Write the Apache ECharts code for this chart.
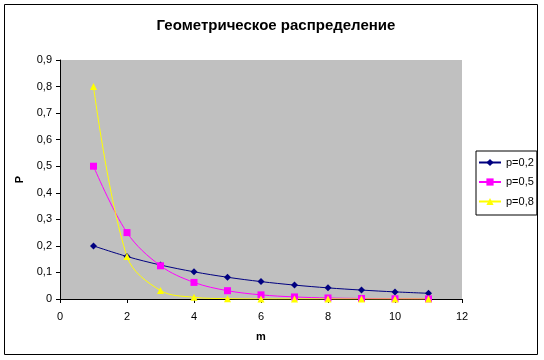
<!DOCTYPE html>
<html><head><meta charset="utf-8">
<script src="https://cdn.jsdelivr.net/npm/echarts@6/dist/echarts.min.js"></script>
<style>html,body{margin:0;padding:0;background:#fff}#c{width:544px;height:360px}</style>
</head><body><div id="c"></div>
<script>
const m = [1,2,3,4,5,6,7,8,9,10,11];
const p02 = [0.2,0.16,0.128,0.1024,0.0819,0.0655,0.0524,0.0419,0.0336,0.0268,0.0215];
const p05 = [0.5,0.25,0.125,0.0625,0.0313,0.0156,0.0078,0.0039,0.002,0.001,0.0005];
const p08 = [0.8,0.16,0.032,0.0064,0.0013,0.0003,0.0001,0.00001,0,0,0];
const names = ['p=0,2','p=0,5','p=0,8'];
const xTicks = {min:0,max:12,interval:2};
const yTicks = {min:0,max:0.9,interval:0.1};
const chart = echarts.init(document.getElementById('c'));
const font = 'Liberation Sans, Arial, sans-serif';
const pair = arr => m.map((x,i)=>[x,arr[i]]);
const colors = ['#000080','#FF00FF','#FFFF00'];
const symbols = ['diamond','rect','triangle'];
const sizes = [7,7,7];
chart.setOption({
  animation:false,
  textStyle:{fontFamily:font},
  title:{text:'Геометрическое распределение',left:271,top:13,textAlign:'center',
    textStyle:{fontFamily:font,fontSize:15,fontWeight:'bold',color:'#000'}},
  graphic:[{type:'rect',shape:{x:4.5,y:4.5,width:533,height:350},style:{fill:'none',stroke:'#000',lineWidth:1},z:-1}],
  grid:{left:60,top:60,right:82,bottom:61,show:true,backgroundColor:'#C0C0C0',borderWidth:0},
  legend:{orient:'vertical',left:476,top:151,padding:[6,3,8,2],itemGap:8.5,
    borderColor:'#000',borderWidth:1,itemWidth:22,itemHeight:9,
    textStyle:{fontFamily:font,fontSize:11,color:'#000'},
    data:names},
  xAxis:{type:'value',min:xTicks.min,max:xTicks.max,interval:xTicks.interval,
    name:'m',nameLocation:'middle',nameGap:32,
    nameTextStyle:{fontFamily:font,fontSize:11,fontWeight:'bold',color:'#000'},
    axisLine:{lineStyle:{color:'#000',width:1}},axisTick:{show:true,inside:false,length:4,lineStyle:{color:'#000'}},
    splitLine:{show:false},axisLabel:{fontFamily:font,fontSize:11,color:'#000',margin:12}},
  yAxis:{type:'value',min:yTicks.min,max:yTicks.max,interval:yTicks.interval,
    name:'P',nameLocation:'middle',nameGap:34,nameRotate:90,
    nameTextStyle:{fontFamily:font,fontSize:11,fontWeight:'bold',color:'#000'},
    axisLine:{show:true,lineStyle:{color:'#000',width:1}},axisTick:{show:true,inside:false,length:4,lineStyle:{color:'#000'}},
    splitLine:{show:false},
    axisLabel:{fontFamily:font,fontSize:11,color:'#000',margin:8,formatter:v=>String(Math.round(v*10)/10).replace('.',',')}},
  series:[p02,p05,p08].map((arr,i)=>({
    name:names[i],type:'line',data:pair(arr),smooth:0.35,
    symbol:symbols[i],symbolSize:sizes[i],showSymbol:true,
    lineStyle:{color:colors[i],width:1},itemStyle:{color:colors[i]}
  }))
});
</script></body></html>
